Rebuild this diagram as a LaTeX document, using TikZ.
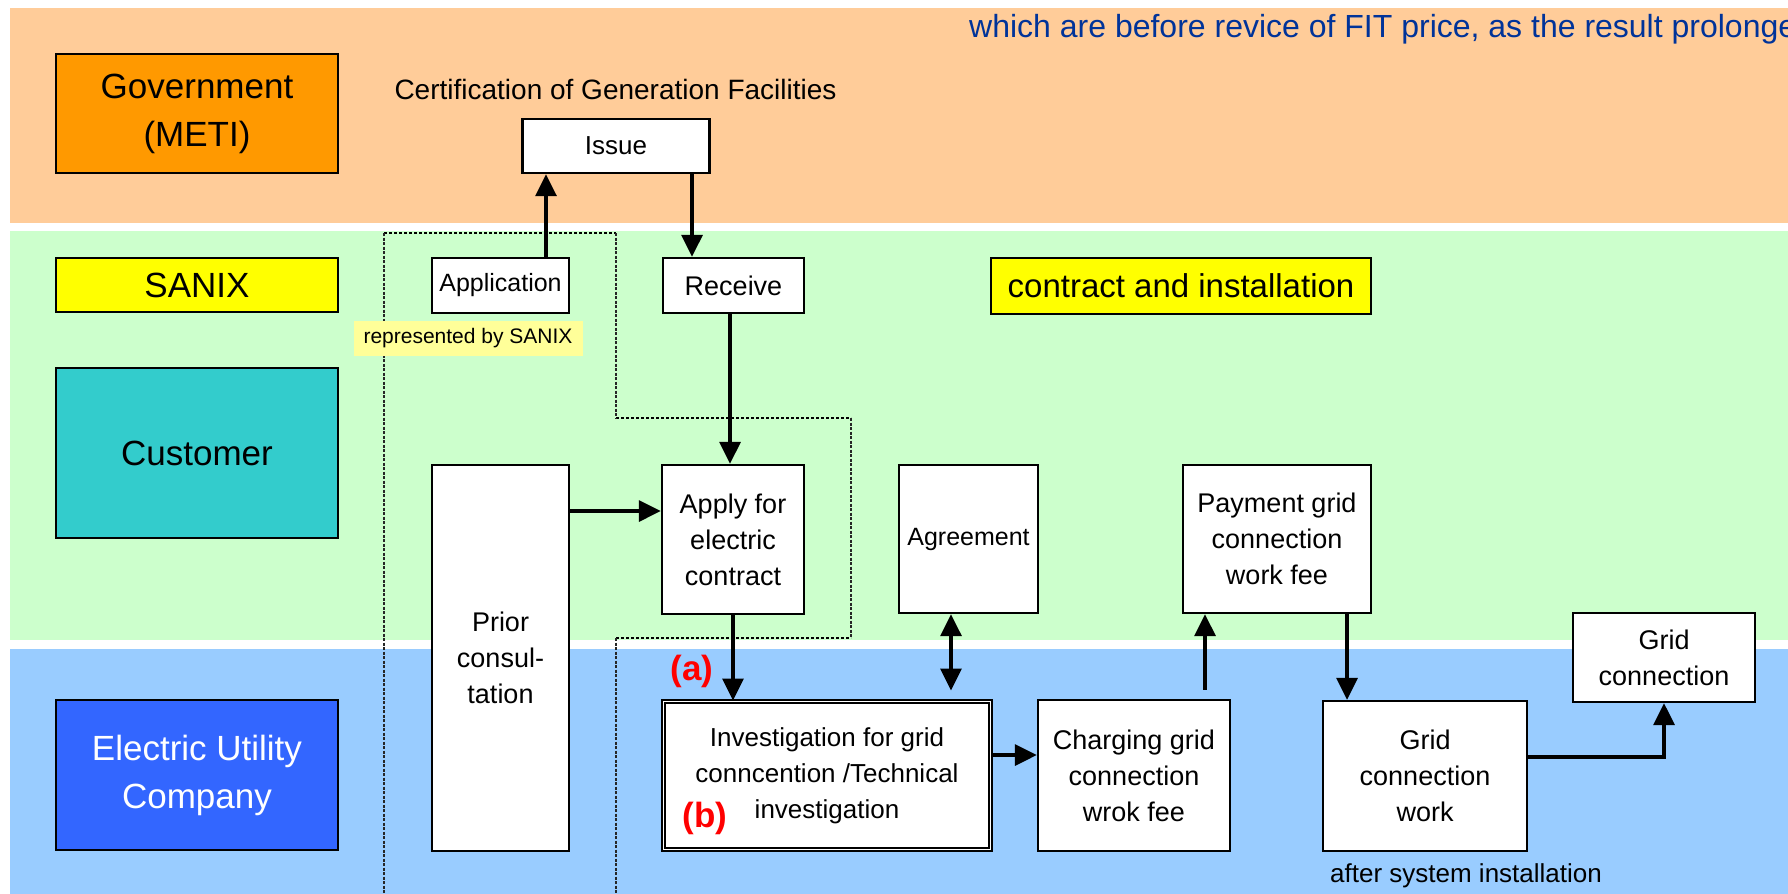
\documentclass[tikz,border=0pt]{standalone}
\usepackage{fontspec}
\setmainfont{Liberation Sans}
\usetikzlibrary{arrows.meta,calc}
\definecolor{laneO}{HTML}{FFCC99}
\definecolor{laneG}{HTML}{CCFFCC}
\definecolor{laneB}{HTML}{99CCFF}
\definecolor{govC}{HTML}{FF9900}
\definecolor{sanC}{HTML}{FFFF00}
\definecolor{cusC}{HTML}{33CCCC}
\definecolor{eleC}{HTML}{3366FF}
\definecolor{noteC}{HTML}{FFFF99}
\definecolor{navyT}{HTML}{003399}
\newcommand\fs[2]{\fontsize{#1}{#2}\selectfont}
\begin{document}
\begin{tikzpicture}[x=1pt,y=-1pt,
  lanebox/.style={draw, line width=2.3pt, align=center, inner sep=0pt, font=\fs{35}{48}},
  box/.style={draw, fill=white, line width=2.3pt, align=center, inner sep=0pt, font=\fs{27}{36}},
  arr/.style={line width=3.2pt, -{Triangle[length=22pt,width=21pt]}},
  biarr/.style={line width=3.2pt, {Triangle[length=22pt,width=21pt]}-{Triangle[length=22pt,width=21pt]}},
  tag/.style={text=red, font=\fs{35}{38}\bfseries, inner sep=0pt},
  hregion/.style={line width=2pt, dash pattern=on 2.5pt off 2.5pt},
  vregion/.style={line width=1.3pt, black!85, dash pattern=on 3pt off 1.5pt}]
\clip (0,0) rectangle (1788,894);
\fill[white] (0,0) rectangle (1788,894);
\fill[laneO] (10,8) rectangle (1788,223);
\fill[laneG] (10,231) rectangle (1788,640);
\fill[laneB] (10,649) rectangle (1788,894);

% dotted region
\draw[hregion] (384,233) -- (616,233);
\draw[hregion] (616,418) -- (851,418);
\draw[hregion] (616,638) -- (851,638);
\draw[vregion] (384,233) -- (384,894);
\draw[vregion] (616,233) -- (616,418);
\draw[vregion] (851,418) -- (851,638);
\draw[vregion] (616,638) -- (616,894);

% top note
\node[anchor=base west, text=navyT, font=\fs{32}{36}, inner sep=0pt] (note) at (969,37) {which are before revice of FIT price, as the result prolonge};

% lane labels
\node[lanebox, fill=govC, minimum width=282pt, minimum height=119pt] (gov) at (197,113.5) {Government\\(METI)};
\node[lanebox, fill=sanC, minimum width=282pt, minimum height=54pt] (sanix) at (197,285) {SANIX};
\node[lanebox, fill=cusC, minimum width=282pt, minimum height=170pt] (cust) at (197,453) {Customer};
\node[lanebox, fill=eleC, text=white, minimum width=282pt, minimum height=150pt] (elec) at (197,775) {Electric Utility\\Company};

% content
\node[font=\fs{28}{32}, inner sep=0pt] (cert) at (615.5,89) {Certification of Generation Facilities};
\node[box, font=\fs{26}{32}, minimum width=187pt, minimum height=54pt] (issue) at (616,146) {Issue};
\node[box, font=\fs{25}{32}, minimum width=137pt, minimum height=55pt] (application) at (500.5,285.5) {Application};
\node[fill=noteC, font=\fs{21}{24}, minimum width=229pt, minimum height=35pt, inner sep=0pt] (rep) at (468,338) {represented by SANIX};
\node[box, minimum width=141pt, minimum height=55pt] (receive) at (733.5,285.5) {Receive};
\node[box, fill=sanC, font=\fs{33}{40}, minimum width=380pt, minimum height=56pt] (contract) at (1181,286) {contract and installation};
\node[box, minimum width=137pt, minimum height=386pt] (prior) at (500.5,658) {Prior\\consul-\\tation};
\node[box, minimum width=142pt, minimum height=149pt] (apply) at (733,539.5) {Apply for\\electric\\contract};
\node[box, font=\fs{25}{32}, minimum width=139pt, minimum height=148pt] (agreement) at (968.5,539) {Agreement};
\node[box, minimum width=188pt, minimum height=148pt] (payment) at (1277,539) {Payment grid\\connection\\work fee};
\node[box, minimum width=182pt, minimum height=89pt] (gridconn) at (1664,657.5) {Grid\\connection};
\node[box, font=\fs{26}{36}, line width=1.9pt, double=white, double distance=1.5pt, minimum width=327pt, minimum height=148pt] (invest) at (827,775.5) {Investigation for grid\\conncention /Technical\\investigation};
\node[box, minimum width=192pt, minimum height=151pt] (charging) at (1134,775.5) {Charging grid\\connection\\wrok fee};
\node[box, minimum width=204pt, minimum height=150pt] (gcw) at (1425,776) {Grid\\connection\\work};
\node[font=\fs{26}{30}, inner sep=0pt] (after) at (1466,876) {after system installation};
\node[tag] (taga) at (692,671) {(a)};
\node[tag] (tagb) at (705,818) {(b)};

% connectors
\coordinate (xa) at (546,0);
\coordinate (xb) at (692,0);
\coordinate (xc) at (730,0);
\coordinate (yd) at (0,511);
\coordinate (xe) at (951,0);
\coordinate (yf) at (0,755);
\coordinate (xg) at (1205,0);
\coordinate (xh) at (1347,0);
\coordinate (yi) at (0,757);
\draw[arr] (application.north -| xa) -- (issue.south -| xa);
\draw[arr] (issue.south -| xb) -- (receive.north -| xb);
\draw[arr] (receive.south -| xc) -- (apply.north -| xc);
\draw[arr] (prior.east |- yd) -- (apply.west |- yd);
\draw[arr] (apply.south) -- (invest.north -| apply.south);
\draw[biarr, shorten >=10pt] (agreement.south -| xe) -- (invest.north -| xe);
\draw[arr] (invest.east |- yf) -- (charging.west |- yf);
\draw[arr, shorten <=9pt] (charging.north -| xg) -- (payment.south -| xg);
\draw[arr] (payment.south -| xh) -- (gcw.north -| xh);
\draw[arr] (gcw.east |- yi) -| (gridconn.south);
\end{tikzpicture}
\end{document}
